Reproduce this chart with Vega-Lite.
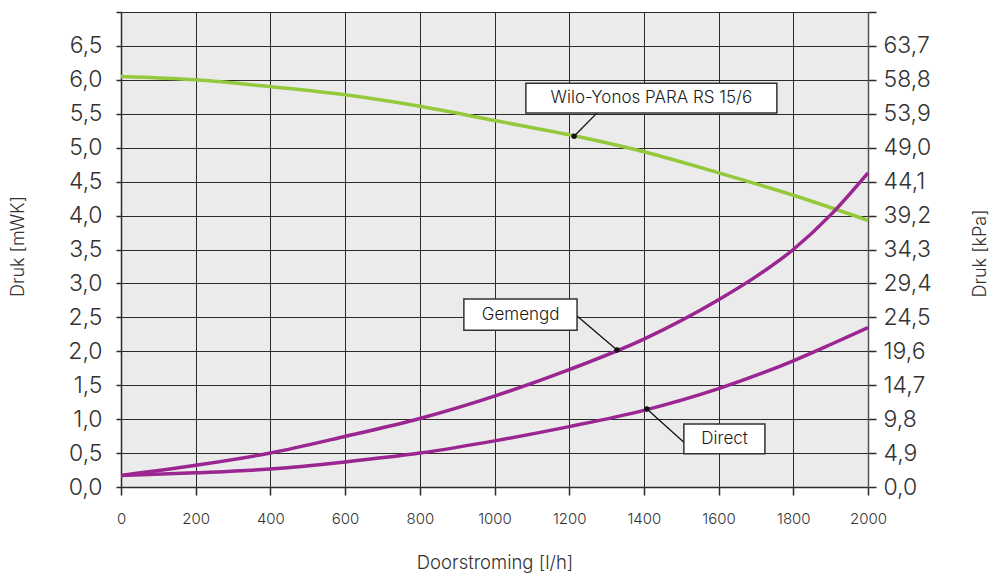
{
  "$schema": "https://vega.github.io/schema/vega-lite/v6.json",
  "autosize": {"type": "none"},
  "width": 747,
  "height": 475,
  "padding": {"left": 121, "top": 12, "right": 122, "bottom": 89},
  "background": "white",
  "config": {
    "view": {"fill": "#ebebeb", "stroke": null},
    "font": "Inter",
    "axis": {"labelOverlap": false, "labelBound": false, "labelFlush": false}
  },
  "datasets": {
    "curves": [
      {"flow": 0, "druk": 6.05, "serie": "Wilo"},
      {"flow": 200, "druk": 6.0, "serie": "Wilo"},
      {"flow": 400, "druk": 5.9, "serie": "Wilo"},
      {"flow": 600, "druk": 5.78, "serie": "Wilo"},
      {"flow": 800, "druk": 5.61, "serie": "Wilo"},
      {"flow": 1000, "druk": 5.4, "serie": "Wilo"},
      {"flow": 1200, "druk": 5.19, "serie": "Wilo"},
      {"flow": 1400, "druk": 4.94, "serie": "Wilo"},
      {"flow": 1600, "druk": 4.63, "serie": "Wilo"},
      {"flow": 1800, "druk": 4.3, "serie": "Wilo"},
      {"flow": 2000, "druk": 3.93, "serie": "Wilo"},
      {"flow": 0, "druk": 0.17, "serie": "Gemengd"},
      {"flow": 200, "druk": 0.32, "serie": "Gemengd"},
      {"flow": 400, "druk": 0.5, "serie": "Gemengd"},
      {"flow": 600, "druk": 0.745, "serie": "Gemengd"},
      {"flow": 800, "druk": 1.01, "serie": "Gemengd"},
      {"flow": 1000, "druk": 1.34, "serie": "Gemengd"},
      {"flow": 1200, "druk": 1.73, "serie": "Gemengd"},
      {"flow": 1400, "druk": 2.18, "serie": "Gemengd"},
      {"flow": 1600, "druk": 2.76, "serie": "Gemengd"},
      {"flow": 1700, "druk": 3.1, "serie": "Gemengd"},
      {"flow": 1800, "druk": 3.5, "serie": "Gemengd"},
      {"flow": 1900, "druk": 4.01, "serie": "Gemengd"},
      {"flow": 2000, "druk": 4.63, "serie": "Gemengd"},
      {"flow": 0, "druk": 0.17, "serie": "Direct"},
      {"flow": 200, "druk": 0.21, "serie": "Direct"},
      {"flow": 400, "druk": 0.265, "serie": "Direct"},
      {"flow": 600, "druk": 0.37, "serie": "Direct"},
      {"flow": 800, "druk": 0.5, "serie": "Direct"},
      {"flow": 1000, "druk": 0.68, "serie": "Direct"},
      {"flow": 1200, "druk": 0.89, "serie": "Direct"},
      {"flow": 1400, "druk": 1.13, "serie": "Direct"},
      {"flow": 1600, "druk": 1.45, "serie": "Direct"},
      {"flow": 1800, "druk": 1.86, "serie": "Direct"},
      {"flow": 1900, "druk": 2.1, "serie": "Direct"},
      {"flow": 2000, "druk": 2.35, "serie": "Direct"}
    ],
    "labels": [
      {"label": "Wilo-Yonos PARA RS 15/6", "bx1": 1084, "bx2": 1756, "by1": 5.51, "by2": 5.95, "tx": 1420, "ty": 5.73, "lx": 1274, "ly": 5.51, "px": 1213, "py": 5.17},
      {"label": "Gemengd", "bx1": 918, "bx2": 1221, "by1": 2.31, "by2": 2.77, "tx": 1070, "ty": 2.54, "lx": 1221, "ly": 2.52, "px": 1328, "py": 2.02},
      {"label": "Direct", "bx1": 1507, "bx2": 1724, "by1": 0.49, "by2": 0.93, "tx": 1616, "ty": 0.71, "lx": 1507, "ly": 0.66, "px": 1408, "py": 1.15}
    ],
    "mwk": [{"m": 0}, {"m": 7}],
    "kpa": [{"k": 0}, {"k": 68.6}]
  },
  "layer": [
    {
      "data": {"name": "mwk"},
      "mark": {"type": "point", "opacity": 0},
      "encoding": {
        "y": {
          "field": "m", "type": "quantitative",
          "scale": {"domain": [0, 7], "nice": false, "zero": true},
          "axis": {
            "orient": "left",
            "values": [0, 0.5, 1, 1.5, 2, 2.5, 3, 3.5, 4, 4.5, 5, 5.5, 6, 6.5, 7],
            "labelExpr": "datum.value > 6.9 ? '' : replace(format(datum.value, '.1f'), '.', ',')",
            "labelOverlap": false, "labelBound": false, "labelFlush": false,
            "title": "Druk [mWK]",
            "grid": true, "gridColor": "#2b2b2b", "gridWidth": 1, "gridOpacity": 1,
            "domainColor": "#2b2b2b", "domainWidth": 1.5,
            "tickColor": "#2b2b2b", "tickSize": 5, "tickWidth": 1.5,
            "labelFont": "Inter", "labelFontWeight": 300, "labelFontSize": 23, "labelColor": "#333333", "labelPadding": 14,
            "titleFont": "Inter", "titleFontWeight": 300, "titleFontSize": 18, "titleColor": "#333333",
            "titleX": -103, "titleY": 234, "titleAngle": -90, "titleBaseline": "middle", "titleAlign": "center"
          }
        }
      }
    },
    {
      "layer": [
        {
          "data": {"name": "curves"},
          "mark": {"type": "line", "interpolate": "monotone", "strokeWidth": 3.5},
          "encoding": {
            "x": {
              "field": "flow", "type": "quantitative",
              "scale": {"domain": [0, 2000], "nice": false},
              "axis": {
                "values": [0, 200, 400, 600, 800, 1000, 1200, 1400, 1600, 1800, 2000],
                "format": "d", "labelOverlap": false, "labelBound": false, "labelFlush": false,
                "title": "Doorstroming [l/h]",
                "grid": true, "gridColor": "#2b2b2b", "gridWidth": 1, "gridOpacity": 1,
                "domainColor": "#2b2b2b", "domainWidth": 1.5,
                "tickColor": "#2b2b2b", "tickSize": 8, "tickWidth": 1.5,
                "labelFont": "Inter", "labelFontWeight": 300, "labelFontSize": 15, "labelColor": "#333333", "labelPadding": 16,
                "titleFont": "Inter", "titleFontWeight": 300, "titleFontSize": 18.5, "titleColor": "#333333",
                "titleX": 373.5, "titleY": 75, "titleBaseline": "middle", "titleAlign": "center"
              }
            },
            "y": {
              "field": "druk", "type": "quantitative",
              "scale": {"domain": [0, 7], "nice": false},
              "axis": null
            },
            "color": {
              "field": "serie", "type": "nominal",
              "scale": {"domain": ["Wilo", "Gemengd", "Direct"], "range": ["#94c83d", "#9b2591", "#9b2591"]},
              "legend": null
            },
            "detail": {"field": "serie"}
          }
        },
        {
          "data": {"name": "labels"},
          "mark": {"type": "rule", "color": "#111111", "strokeWidth": 1.3},
          "encoding": {
            "x": {"field": "lx", "type": "quantitative"},
            "y": {"field": "ly", "type": "quantitative", "axis": null},
            "x2": {"field": "px"},
            "y2": {"field": "py"}
          }
        },
        {
          "data": {"name": "labels"},
          "mark": {"type": "point", "filled": true, "color": "#111111", "size": 30, "opacity": 1},
          "encoding": {
            "x": {"field": "px", "type": "quantitative"},
            "y": {"field": "py", "type": "quantitative", "axis": null}
          }
        },
        {
          "data": {"name": "labels"},
          "mark": {"type": "rect", "fill": "white", "stroke": "#333333", "strokeWidth": 1.5},
          "encoding": {
            "x": {"field": "bx1", "type": "quantitative"},
            "x2": {"field": "bx2"},
            "y": {"field": "by1", "type": "quantitative", "axis": null},
            "y2": {"field": "by2"}
          }
        },
        {
          "data": {"name": "labels"},
          "mark": {"type": "text", "font": "Inter", "fontSize": 17, "fontWeight": 300, "color": "#1a1a1a", "align": "center", "baseline": "middle"},
          "encoding": {
            "x": {"field": "tx", "type": "quantitative"},
            "y": {"field": "ty", "type": "quantitative", "axis": null},
            "text": {"field": "label"}
          }
        }
      ]
    },
    {
      "data": {"name": "kpa"},
      "mark": {"type": "point", "opacity": 0},
      "encoding": {
        "y": {
          "field": "k", "type": "quantitative",
          "scale": {"domain": [0, 68.6], "nice": false, "zero": true},
          "axis": {
            "orient": "right",
            "values": [0, 4.9, 9.8, 14.7, 19.6, 24.5, 29.4, 34.3, 39.2, 44.1, 49, 53.9, 58.8, 63.7, 68.6],
            "labelExpr": "datum.value > 68 ? '' : replace(format(datum.value, '.1f'), '.', ',')",
            "labelOverlap": false, "labelBound": false, "labelFlush": false,
            "title": "Druk [kPa]",
            "grid": false,
            "domainColor": "#555555", "domainWidth": 1.5,
            "tickColor": "#2b2b2b", "tickSize": 8, "tickWidth": 1.5,
            "labelFont": "Inter", "labelFontWeight": 300, "labelFontSize": 23, "labelColor": "#333333", "labelPadding": 7,
            "titleFont": "Inter", "titleFontWeight": 300, "titleFontSize": 18, "titleColor": "#333333",
            "titleX": 112, "titleY": 241, "titleAngle": -90, "titleBaseline": "middle", "titleAlign": "center"
          }
        }
      }
    }
  ],
  "resolve": {"scale": {"y": "independent"}, "axis": {"y": "independent"}}
}
